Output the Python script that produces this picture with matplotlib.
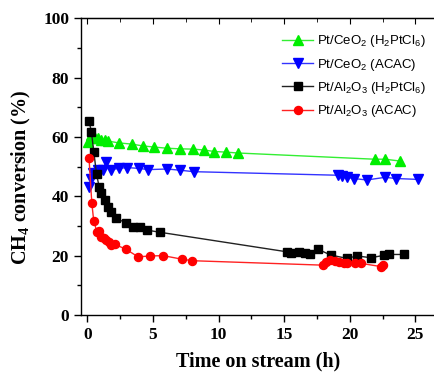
import matplotlib
matplotlib.use("Agg")
import matplotlib.pyplot as plt
from matplotlib.ticker import MultipleLocator

# time on stream (h) and CH4 conversion (%)
ceo2_h2ptcl6_t = [0.05, 0.3, 0.56, 0.81, 1.07, 1.32, 1.57, 2.4, 3.36, 4.2, 5.07, 6.08,
                  7.05, 8.06, 8.9, 9.66, 10.53, 11.45, 21.9, 22.7, 23.8]
ceo2_h2ptcl6_y = [58.4, 60.6, 59.8, 59.5, 59.1, 58.9, 58.6, 58.0, 57.6, 57.0, 56.6, 56.2,
                  56.0, 55.9, 55.6, 55.1, 54.9, 54.6, 52.5, 52.5, 51.9]

ceo2_acac_t = [0.12, 0.3, 0.43, 0.81, 1.19, 1.4, 1.76, 2.41, 2.98, 3.94, 4.63, 6.08,
               7.05, 8.11, 19.1, 19.4, 19.8, 20.3, 21.3, 22.7, 23.5, 25.2]
ceo2_acac_y = [43.0, 45.7, 47.7, 48.8, 49.0, 51.6, 49.0, 49.4, 49.7, 49.4, 49.0, 49.2,
               48.8, 48.3, 47.1, 46.8, 46.4, 46.0, 45.5, 46.4, 46.0, 45.7]

al2o3_h2ptcl6_t = [0.12, 0.3, 0.48, 0.69, 0.89, 1.07, 1.32, 1.57, 1.78, 2.16, 2.92, 3.44,
                   4.0, 4.55, 5.5, 15.2, 15.5, 16.15, 16.6, 16.97, 17.6, 18.55, 19.77,
                   20.58, 21.6, 22.6, 23.0, 24.1]
al2o3_h2ptcl6_y = [65.4, 61.7, 55.1, 47.5, 43.2, 41.2, 38.9, 36.3, 34.8, 32.6, 31.1, 29.5,
                   29.7, 28.6, 27.9, 21.3, 21.0, 21.3, 20.8, 20.5, 22.1, 20.2, 19.1,
                   19.9, 19.3, 20.1, 20.4, 20.4]

al2o3_acac_t = [0.12, 0.33, 0.48, 0.73, 0.89, 1.07, 1.24, 1.45, 1.65, 1.83, 2.08, 2.92,
                3.86, 4.8, 5.77, 7.22, 7.98, 17.94, 18.19, 18.5, 18.88, 19.2, 19.56,
                19.82, 20.4, 20.86, 22.4, 22.5]
al2o3_acac_y = [52.8, 37.8, 31.6, 28.0, 28.4, 26.2, 25.8, 25.3, 24.7, 23.6, 23.8, 22.2,
                19.6, 19.9, 20.0, 18.8, 18.3, 16.8, 18.0, 18.5, 18.2, 17.7, 17.6,
                17.6, 17.4, 17.4, 16.3, 16.8]

labels = [r"Pt/CeO$_2$ (H$_2$PtCl$_6$)", r"Pt/CeO$_2$ (ACAC)",
          r"Pt/Al$_2$O$_3$ (H$_2$PtCl$_6$)", r"Pt/Al$_2$O$_3$ (ACAC)"]

plt.rcParams["mathtext.fontset"] = "custom"
plt.rcParams["mathtext.rm"] = "Liberation Sans"
plt.rcParams["mathtext.bf"] = "Liberation Serif:bold"
plt.rcParams["mathtext.default"] = "rm"

fig = plt.figure(figsize=(4.35, 3.73), dpi=100)
ax = fig.add_axes([0.186, 0.1555, 0.814, 0.7955])

ax.plot(ceo2_h2ptcl6_t, ceo2_h2ptcl6_y, "-^", color="#33ee33", mfc="#00ee00", mec="#00ee00",
        ms=6.5, lw=1, label=labels[0])
ax.plot(ceo2_acac_t, ceo2_acac_y, "-v", color="#3333ff", mfc="#0000ff", mec="#0000ff",
        ms=6.5, lw=1, label=labels[1])
ax.plot(al2o3_h2ptcl6_t, al2o3_h2ptcl6_y, "-s", color="#222222", mfc="black", mec="black",
        ms=5.2, lw=1, label=labels[2])
ax.plot(al2o3_acac_t, al2o3_acac_y, "-o", color="#ff2222", mfc="#ff0000", mec="#ff0000",
        ms=5.8, lw=1, label=labels[3])

ax.set_xlim(-0.5, 26.5)
ax.set_ylim(0, 100)
ax.xaxis.set_major_locator(MultipleLocator(5))
ax.xaxis.set_minor_locator(MultipleLocator(2.5))
ax.yaxis.set_major_locator(MultipleLocator(20))
ax.yaxis.set_minor_locator(MultipleLocator(10))
ax.tick_params(which="major", direction="out", length=5, width=1)
ax.tick_params(which="minor", direction="out", length=3, width=1)
ax.spines["right"].set_visible(False)
for sp in ["left", "bottom", "top"]:
    ax.spines[sp].set_linewidth(1)

top = ax.secondary_xaxis("top")
top.xaxis.set_major_locator(MultipleLocator(5))
top.xaxis.set_minor_locator(MultipleLocator(2.5))
top.tick_params(which="major", direction="in", length=4, labeltop=False)
top.tick_params(which="minor", direction="in", length=3)

for lab in ax.get_xticklabels() + ax.get_yticklabels():
    lab.set_fontfamily("Liberation Serif")
    lab.set_fontweight("bold")
    lab.set_fontsize(12.5)

ax.set_xlabel("Time on stream (h)", fontfamily="Liberation Serif", fontweight="bold",
              fontsize=14.5, labelpad=6)
ax.set_ylabel(r"CH$_\mathbf{4}$ conversion (%)", fontfamily="Liberation Serif",
              fontweight="bold", fontsize=14.5)
ax.yaxis.set_label_coords(-0.136, 0.465)

ax.legend(loc="upper right", bbox_to_anchor=(1.0, 0.98), frameon=False,
          prop={"family": "Liberation Sans", "size": 9.5}, handlelength=2.3,
          handletextpad=0.3, labelspacing=0.55, borderaxespad=0.3)

fig.savefig("out.png", dpi=100)
